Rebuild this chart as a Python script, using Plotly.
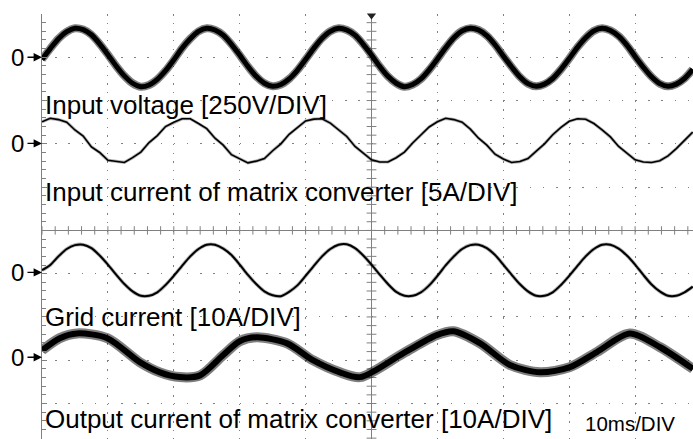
import numpy as np
import plotly.graph_objects as go

# ---- data (values in divisions relative to each channel's zero marker) ----
t_ms = np.arange(0, 100, 1.25)  # sampling grid, 10 ms/DIV

input_voltage = [
    -0.05, 0.20, 0.43, 0.59, 0.67, 0.64, 0.52, 0.31, 0.06, -0.20, -0.43, -0.60, -0.68, -0.64, -0.51, -0.31,
    -0.06, 0.21, 0.43, 0.60, 0.67, 0.63, 0.51, 0.30, 0.05, -0.21, -0.44, -0.60, -0.67, -0.63, -0.50, -0.30,
    -0.05, 0.21, 0.44, 0.60, 0.67, 0.63, 0.51, 0.30, 0.05, -0.21, -0.44, -0.60, -0.68, -0.63, -0.50, -0.29,
    -0.04, 0.22, 0.45, 0.61, 0.67, 0.63, 0.50, 0.29, 0.03, -0.22, -0.45, -0.61, -0.67, -0.62, -0.49, -0.28,
    -0.03, 0.23, 0.45, 0.61, 0.67, 0.62, 0.49, 0.28, 0.02, -0.23, -0.45, -0.61, -0.67, -0.62, -0.49, -0.28,
]
input_current = [
    0.50, 0.58, 0.55, 0.49, 0.31, 0.17, -0.08, -0.21, -0.39, -0.42, -0.44, -0.33, -0.20, 0.02, 0.18, 0.39,
    0.49, 0.57, 0.57, 0.46, 0.34, 0.12, -0.04, -0.26, -0.35, -0.45, -0.41, -0.35, -0.17, -0.01, 0.21, 0.36,
    0.52, 0.56, 0.57, 0.47, 0.32, 0.16, -0.07, -0.22, -0.38, -0.43, -0.43, -0.33, -0.20, 0.01, 0.19, 0.38,
    0.50, 0.58, 0.55, 0.49, 0.33, 0.12, -0.04, -0.25, -0.36, -0.44, -0.42, -0.35, -0.18, -0.01, 0.20, 0.37,
    0.51, 0.57, 0.56, 0.46, 0.31, 0.15, -0.07, -0.22, -0.38, -0.43, -0.44, -0.40, -0.29, -0.12, 0.06, 0.26,
]
grid_current = [
    0.05, 0.17, 0.37, 0.54, 0.63, 0.64, 0.56, 0.39, 0.18, -0.05, -0.27, -0.44, -0.54, -0.54, -0.46, -0.29,
    -0.08, 0.15, 0.37, 0.54, 0.64, 0.64, 0.55, 0.40, 0.18, -0.06, -0.27, -0.44, -0.53, -0.55, -0.45, -0.30,
    -0.08, 0.15, 0.37, 0.54, 0.64, 0.65, 0.56, 0.39, 0.18, -0.05, -0.27, -0.45, -0.54, -0.54, -0.46, -0.30,
    -0.08, 0.16, 0.37, 0.54, 0.63, 0.64, 0.56, 0.40, 0.18, -0.05, -0.27, -0.44, -0.54, -0.54, -0.46, -0.29,
    -0.08, 0.15, 0.37, 0.54, 0.64, 0.64, 0.55, 0.39, 0.18, -0.06, -0.28, -0.44, -0.54, -0.54, -0.46, -0.33,
]
output_t_ms = [0, 2.7, 5.3, 9.9, 14.9, 17.9, 20.9, 24.0, 27.5, 30.0, 32.6, 37.2, 41.1, 45.2, 48.3,
               54.8, 59.9, 62.4, 66.5, 71.0, 75.6, 80.1, 84.2, 89.2, 93.8, 98.8]
output_current = [0.16, 0.44, 0.55, 0.44, -0.12, -0.35, -0.46, -0.42, 0.05, 0.37, 0.46, 0.32, -0.07, -0.35, -0.46,
                  0.09, 0.51, 0.60, 0.32, -0.18, -0.35, -0.23, 0.12, 0.55, 0.23, -0.27]

channel_labels = [
    "Input voltage [250V/DIV]",
    "Input current of matrix converter [5A/DIV]",
    "Grid current [10A/DIV]",
    "Output current of matrix converter [10A/DIV]",
]
timebase_label = "10ms/DIV"

# ---- layout parameters ----
zero_pos = [4.0, 2.01, -0.97, -2.93]     # channel zero markers (divisions)
label_pos = [2.90, 0.89, -2.0, -4.36]
GRID = "#808080"

fig = go.Figure()

def trace(x, y, w_core, w_halo, halo_alpha, shape="linear"):
    fig.add_trace(go.Scatter(x=x, y=y, mode="lines",
                             line=dict(color=f"rgba(0,0,0,{halo_alpha})", width=w_halo, shape=shape, smoothing=0.8),
                             hoverinfo="skip", showlegend=False))
    fig.add_trace(go.Scatter(x=x, y=y, mode="lines",
                             line=dict(color="#000", width=w_core, shape=shape, smoothing=0.8),
                             hoverinfo="skip", showlegend=False))

# center cross tick marks
fig.add_trace(go.Scatter(x=np.arange(0, 100, 2), y=np.zeros(50), mode="markers",
                         marker=dict(symbol="line-ns", size=6, line=dict(color=GRID, width=1)),
                         hoverinfo="skip", showlegend=False))
fig.add_trace(go.Scatter(x=np.full(50, 50.0), y=np.arange(-4.8, 5.01, 0.2), mode="markers",
                         marker=dict(symbol="line-ew", size=7, line=dict(color=GRID, width=1)),
                         hoverinfo="skip", showlegend=False))

trace(t_ms, np.array(input_voltage) + zero_pos[0], 5, 8, 0.5, "spline")
trace(t_ms, np.array(input_current) + zero_pos[1], 1.6, 3.2, 0.3)
trace(t_ms, np.array(grid_current) + zero_pos[2], 2.0, 3.6, 0.3, "spline")
trace(output_t_ms, np.array(output_current) + zero_pos[3], 6, 10, 0.5, "spline")

# trigger marker
fig.add_trace(go.Scatter(x=[50], y=[4.965], mode="markers", cliponaxis=False,
                         marker=dict(symbol="triangle-down", size=8, color="#222"),
                         hoverinfo="skip", showlegend=False))

# center vertical line
fig.add_shape(type="line", xref="x", yref="paper", x0=50, x1=50, y0=0, y1=1,
              line=dict(color=GRID, width=1), layer="below")

font = "Liberation Sans, Arial, sans-serif"
for lab, yp in zip(channel_labels, label_pos):
    fig.add_annotation(x=0, y=yp, xref="x", yref="y", text=lab, showarrow=False,
                       xanchor="left", yanchor="middle", xshift=1,
                       font=dict(family=font, size=26, color="#000"))
fig.add_annotation(x=82.1, y=-4.47, xref="x", yref="y", text=timebase_label, showarrow=False,
                   xanchor="left", yanchor="middle", font=dict(family=font, size=20.5, color="#000"))

for zp in zero_pos:
    fig.add_annotation(x=0, y=zp, xref="x", yref="y", text="", showarrow=True,
                       ax=-16, ay=0, arrowhead=2, arrowsize=1.2, arrowwidth=1.4, arrowcolor="#000", standoff=0)
    fig.add_annotation(x=0, y=zp, xref="x", yref="y", text="0", showarrow=False,
                       xanchor="center", yanchor="middle", xshift=-25,
                       font=dict(family=font, size=24, color="#000"))

fig.update_layout(
    width=693, height=439,
    margin=dict(l=42, r=0, t=14, b=0),
    paper_bgcolor="white", plot_bgcolor="white",
    showlegend=False,
    xaxis=dict(range=[0, 651 / 6.59], showgrid=True, dtick=10, tick0=0,
               gridcolor=GRID, gridwidth=1, griddash="1.5px,7.16px",
               showticklabels=False, ticks="", zeroline=False, showline=False),
    yaxis=dict(range=[-4.82, 5.0], showgrid=True, dtick=1, tick0=0,
               gridcolor=GRID, gridwidth=1, griddash="1.5px,11.68px",
               showticklabels=False, ticks="inside", ticklen=5, tickcolor=GRID,
               minor=dict(dtick=0.2, ticks="inside", ticklen=4, tickcolor=GRID, showgrid=False),
               zeroline=True, zerolinecolor=GRID, zerolinewidth=1,
               showline=True, linecolor=GRID, linewidth=1),
)

fig.write_html("out.html")
